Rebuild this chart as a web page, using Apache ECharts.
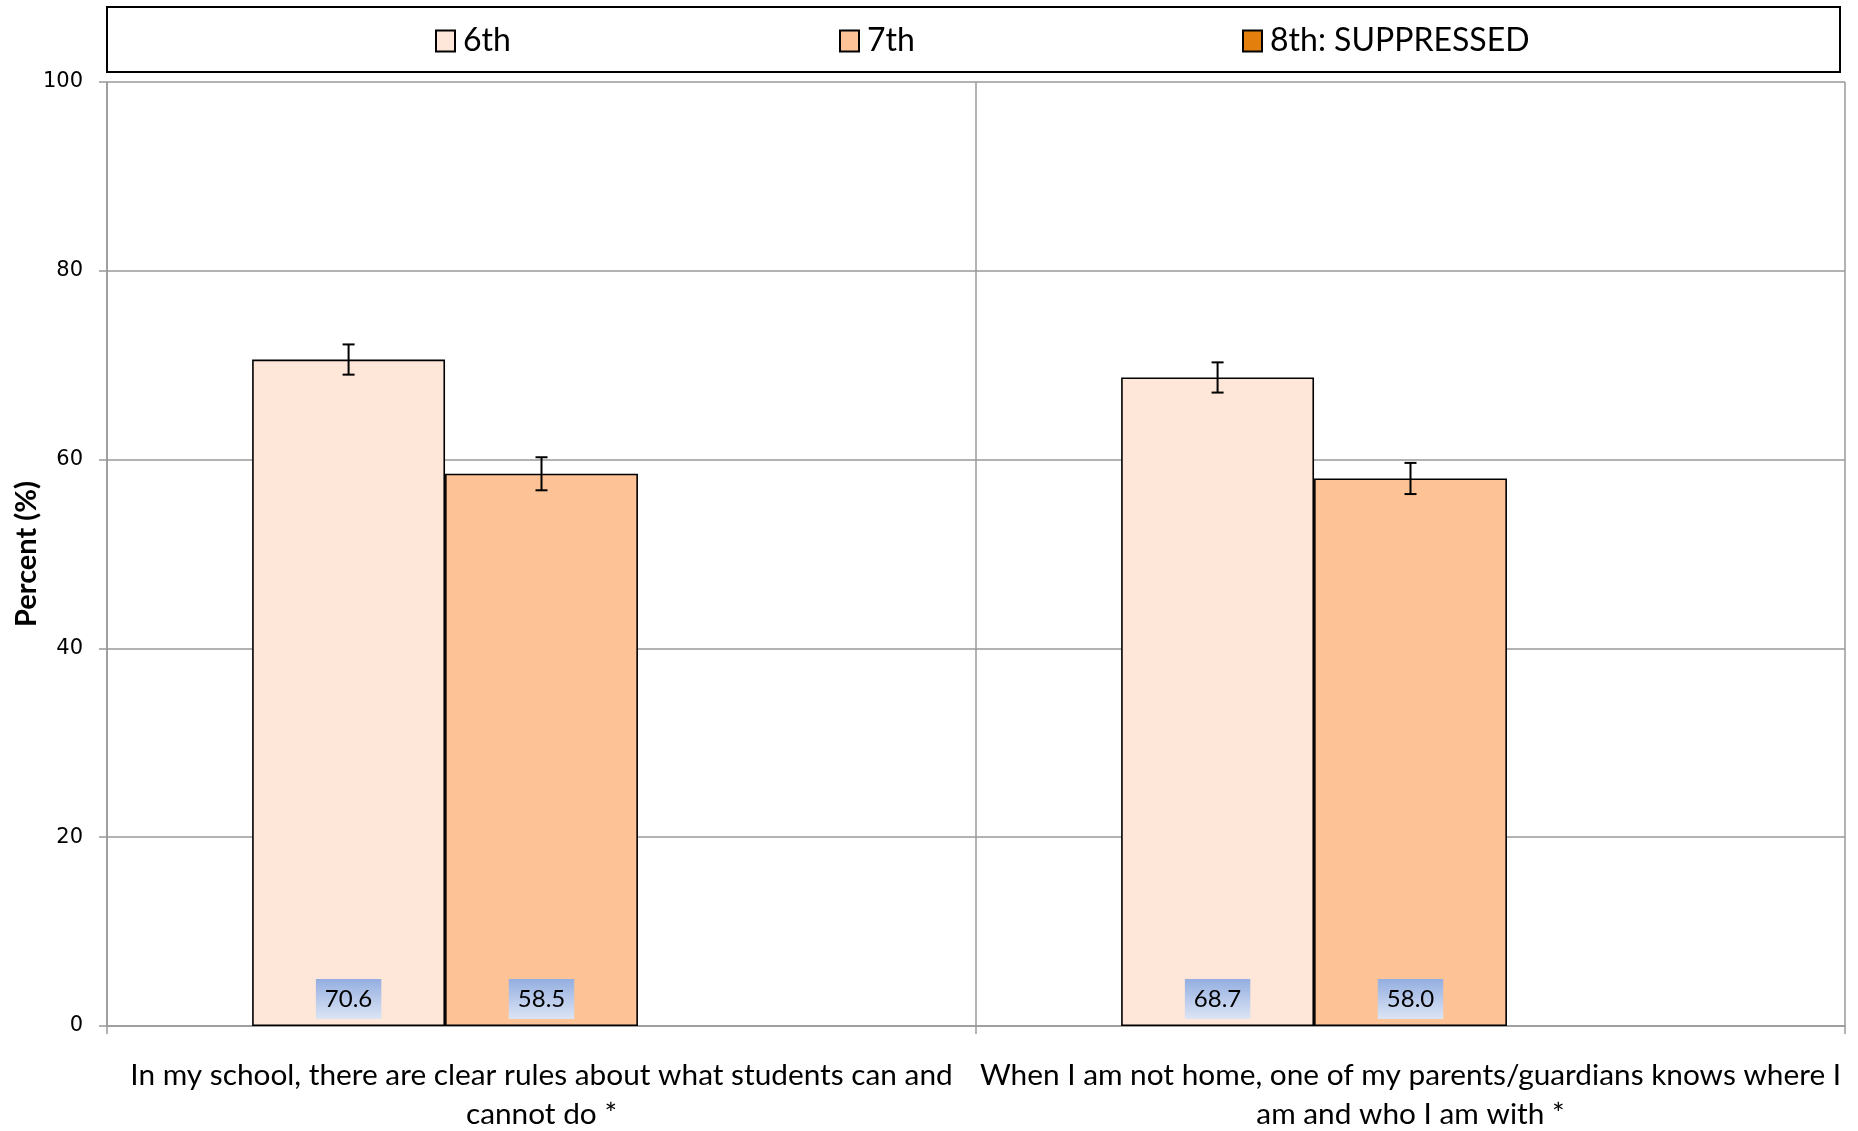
<!DOCTYPE html>
<html>
<head>
<meta charset="utf-8">
<script src="https://cdn.jsdelivr.net/npm/echarts@6/dist/echarts.min.js"></script>
<style>
html,body{margin:0;padding:0;background:#fff;}
#chart{width:1858px;height:1131px;}
</style>
</head>
<body>
<div id="chart"></div>
<script>
var categories = [
  'In my school, there are clear rules about what students can and\ncannot do *',
  'When I am not home, one of my parents/guardians knows where I\nam and who I am with *'
];
var seriesNames = ['6th', '7th', '8th: SUPPRESSED'];
var values6th = [70.6, 68.7];
var values7th = [58.5, 58.0];
var values8th = [null, null];
var err6th = [1.6, 1.6];
var err7th = [1.75, 1.65];
var err8th = [null, null];
var yTicks = [0, 20, 40, 60, 80, 100];

var colors = ['#FEE6D8', '#FDC397', '#E3800D'];
var allValues = [values6th, values7th, values8th];
var allErr = [err6th, err7th, err8th];
var FONT = 'Lato, "Open Sans", sans-serif';
var BAR_FRAC = (1 - 0.334) / 3;

var chart = echarts.init(document.getElementById('chart'));

var labelBg = {
  type: 'linear', x: 0, y: 0, x2: 0, y2: 1,
  colorStops: [{offset: 0, color: '#93AEE0'}, {offset: 1, color: '#DDE5F5'}]
};

var series = [];
seriesNames.forEach(function (name, i) {
  series.push({
    name: name,
    type: 'bar',
    data: allValues[i],
    barGap: '0%',
    barCategoryGap: '33.4%',
    itemStyle: {color: colors[i], borderColor: '#000', borderWidth: 1.6},
    label: {
      show: true,
      position: 'insideBottom',
      distance: 7,
      formatter: function (p) { return p.value == null ? '' : Number(p.value).toFixed(1); },
      color: '#000',
      fontFamily: FONT,
      fontSize: 24,
      padding: [8, 9, 8, 9],
      backgroundColor: labelBg
    },
    emphasis: {disabled: true},
    z: 2
  });
});

seriesNames.forEach(function (name, i) {
  var data = [];
  allValues[i].forEach(function (v, k) {
    if (v != null && allErr[i][k] != null) data.push([k, v - allErr[i][k], v + allErr[i][k]]);
  });
  series.push({
    type: 'custom',
    name: name + ' err',
    z: 5,
    silent: true,
    data: data,
    encode: {x: 0, y: [1, 2]},
    renderItem: function (params, api) {
      var k = api.value(0);
      var lo = api.coord([k, api.value(1)]);
      var hi = api.coord([k, api.value(2)]);
      var catW = api.size([1, 0])[0];
      var x = lo[0] + (i - 1) * catW * BAR_FRAC;
      var cap = 6;
      var st = {stroke: '#000', lineWidth: 2};
      return {
        type: 'group',
        children: [
          {type: 'line', shape: {x1: x, y1: lo[1], x2: x, y2: hi[1]}, style: st},
          {type: 'line', shape: {x1: x - cap, y1: lo[1], x2: x + cap, y2: lo[1]}, style: st},
          {type: 'line', shape: {x1: x - cap, y1: hi[1], x2: x + cap, y2: hi[1]}, style: st}
        ]
      };
    }
  });
});

var legendLefts = [430, 834, 1237];
var legends = seriesNames.map(function (name, i) {
  return {
    data: [name],
    left: legendLefts[i],
    top: 20,
    itemWidth: 19,
    itemHeight: 21,
    icon: 'rect',
    selectedMode: false,
    textStyle: {fontFamily: FONT, fontSize: 32, color: '#000', padding: [0, 0, 0, 3]}
  };
});

chart.setOption({
  animation: false,
  backgroundColor: '#fff',
  legend: legends,
  graphic: [{
    type: 'rect',
    shape: {x: 107, y: 7, width: 1733, height: 65},
    style: {fill: 'none', stroke: '#000', lineWidth: 2},
    z: 10
  }],
  grid: {left: 107, right: 13, top: 82, bottom: 105, containLabel: false, outerBoundsMode: 'none'},
  xAxis: {
    type: 'category',
    data: categories,
    boundaryGap: true,
    axisLine: {lineStyle: {color: '#999', width: 1.5}},
    axisTick: {show: true, length: 8, lineStyle: {color: '#999', width: 1.5}},
    splitLine: {show: true, lineStyle: {color: '#999', width: 1.5}},
    axisLabel: {
      interval: 0,
      margin: 30,
      color: '#000',
      fontFamily: FONT,
      fontSize: 29.8,
      lineHeight: 39,
      align: 'center'
    }
  },
  yAxis: {
    type: 'value',
    min: yTicks[0],
    max: yTicks[yTicks.length - 1],
    interval: 20,
    name: 'Percent (%)',
    nameLocation: 'middle',
    nameGap: 66,
    nameMoveOverlap: false,
    nameTextStyle: {fontFamily: FONT, fontSize: 29, fontWeight: 'bold', color: '#000'},
    axisLine: {show: true, lineStyle: {color: '#999', width: 1.5}},
    axisTick: {show: true, length: 8, lineStyle: {color: '#999', width: 1.5}},
    splitLine: {show: true, lineStyle: {color: '#999', width: 1.5}},
    axisLabel: {margin: 24, color: '#000', fontFamily: '"DejaVu Sans", sans-serif', fontSize: 21}
  },
  series: series
});
</script>
</body>
</html>
